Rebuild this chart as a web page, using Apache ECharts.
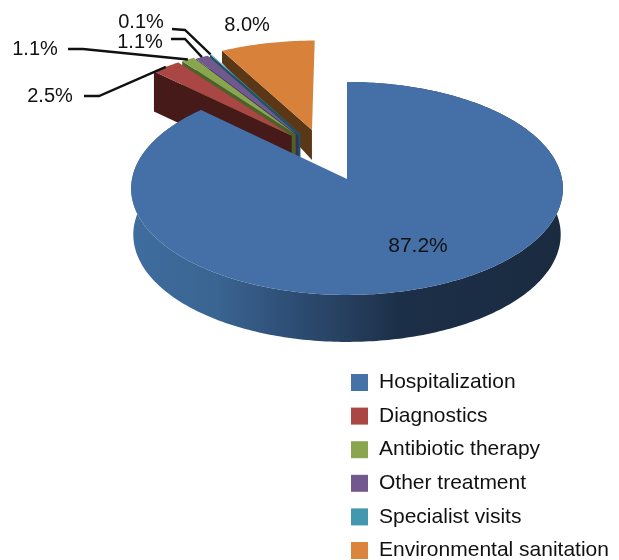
<!DOCTYPE html>
<html>
<head>
<meta charset="utf-8">
<title>Cost shares</title>
<script src="https://cdn.jsdelivr.net/npm/echarts@6/dist/echarts.min.js"></script>
<style>
html, body { margin: 0; padding: 0; background: #fff; }
#chart { width: 619px; height: 560px; }
</style>
</head>
<body>
<div id="chart"></div>
<script>
var categories = ['Hospitalization', 'Diagnostics', 'Antibiotic therapy', 'Other treatment', 'Specialist visits', 'Environmental sanitation'];
var shares = [87.2, 2.5, 1.1, 1.1, 0.1, 8.0];

var topColors = ['#4570a7', '#aa4643', '#89a54e', '#71588f', '#4198af', '#d8813a'];
var wallColors = ['#2a4565', '#451a18', '#4d6229', '#3b2d55', '#1f5263', '#5a3817'];
var legendColors = ['#4572a7', '#aa4643', '#89a54e', '#71588f', '#4198af', '#db843d'];

// how far each slice is pulled out, in pie radii, and wall height at its centre / per unit towards the back
var explodeU = [0, -0.267, -0.248, -0.235, -0.225, -0.17];
var explodeV = [0, 0.425, 0.44, 0.43, 0.445, 0.484];
var wallBase = [46, 40, 32, 32, 32, 40];
var wallFall = [1, 0, 0, 0, 0, 20.5];

// label spot, then elbow of the leader (null = no leader)
var labelAt = [[418, 246], [50, 96], [35, 49], [140, 42], [141, 22], [247, 25]];
var labelSize = [21, 20, 20, 20, 20, 20];
var elbowFrom = [null, [84, 96], [68, 49], [171, 39], [172, 29], null];
var elbowTo = [null, [99, 96], [83, 49], [185, 39], [185, 30], null];

// perspective pie
var apexX = 347, apexY = 179, radiusX = 215, radiusY = 105.6, persp = 0.089, wallNarrow = 0.99;

function project(u, v) {
    var w = 1 / (1 + persp * v);
    return [apexX + radiusX * u * w, apexY - radiusY * v * w];
}

var total = shares.reduce(function (a, b) { return a + b; }, 0);

function sliceRange(idx) {
    var before = 0;
    for (var i = 0; i < idx; i++) before += shares[i];
    return [before / total * Math.PI * 2, (before + shares[idx]) / total * Math.PI * 2];
}

function rimPoint(idx, ang) {
    return project(explodeU[idx] + Math.sin(ang), explodeV[idx] + Math.cos(ang));
}

function wallAt(idx, v) {
    return wallBase[idx] - wallFall[idx] * v;
}

function renderSlice(params, api) {
    var idx = params.seriesIndex;
    var range = sliceRange(idx);
    var start = range[0], end = range[0] + (api.value(0) / total) * Math.PI * 2;
    var apex = project(explodeU[idx], explodeV[idx]);
    var rim = [], wall = [], steps = Math.max(4, Math.ceil((end - start) * 60));
    for (var s = 0; s <= steps; s++) {
        var a = start + (end - start) * s / steps;
        var p = rimPoint(idx, a);
        rim.push(p);
        wall.push([apexX + (p[0] - apexX) * wallNarrow, p[1] + wallAt(idx, explodeV[idx] + Math.cos(a))]);
    }
    var children = [];

    // wall along the rim (only the blue one shows)
    if (idx === 0) {
        children.push({
            type: 'polygon',
            shape: { points: rim.concat(wall.slice().reverse()) },
            style: {
                fill: new echarts.graphic.LinearGradient(0, 0, 1, 0, [
                    { offset: 0, color: '#3e6d9f' },
                    { offset: 0.2, color: '#3a6491' },
                    { offset: 0.35, color: '#2f5078' },
                    { offset: 0.5, color: '#263f5e' },
                    { offset: 0.62, color: '#1c2f48' },
                    { offset: 1, color: '#1a2b40' }
                ])
            }
        });
    } else {
        // cut wall on the left edge of the slice
        var tip = rim[0];
        var tipV = explodeV[idx] + Math.cos(start);
        children.push({
            type: 'polygon',
            shape: { points: [tip, apex, [apex[0], apex[1] + wallAt(idx, explodeV[idx])], [tip[0], tip[1] + wallAt(idx, tipV)]] },
            style: { fill: wallColors[idx] }
        });
    }

    children.push({
        type: 'polygon',
        shape: { points: [apex].concat(rim) },
        style: { fill: topColors[idx] }
    });

    if (elbowFrom[idx]) {
        children.push({
            type: 'polyline',
            shape: { points: [elbowFrom[idx], elbowTo[idx], rimPoint(idx, (start + end) / 2)] },
            style: { stroke: '#111', lineWidth: 2.4, fill: null }
        });
    }
    children.push({
        type: 'text',
        z2: 10,
        style: {
            x: labelAt[idx][0],
            y: labelAt[idx][1],
            text: api.value(0).toFixed(1) + '%',
            fontFamily: 'Liberation Sans',
            fontSize: labelSize[idx],
            fill: '#111',
            align: 'center',
            verticalAlign: 'middle'
        }
    });
    return { type: 'group', children: children };
}

// blue goes on top of the pulled-out slices, orange at the back
var drawOrder = [6, 5, 4, 3, 2, 1];

var chart = echarts.init(document.getElementById('chart'), null, { renderer: 'canvas' });
chart.setOption({
    animation: false,
    backgroundColor: '#fff',
    legend: {
        orient: 'vertical',
        left: 351,
        top: 372,
        height: 200,
        padding: 0,
        itemWidth: 17,
        itemHeight: 17,
        itemGap: 12.6,
        icon: 'rect',
        selectedMode: false,
        data: categories,
        textStyle: { fontFamily: 'Liberation Sans', fontSize: 21, color: '#111', padding: [0, 0, 0, 6] }
    },
    series: categories.map(function (name, i) {
        return {
            type: 'custom',
            name: name,
            coordinateSystem: 'none',
            z: drawOrder[i],
            silent: true,
            itemStyle: { color: legendColors[i] },
            renderItem: renderSlice,
            data: [[shares[i]]]
        };
    })
});
</script>
</body>
</html>
